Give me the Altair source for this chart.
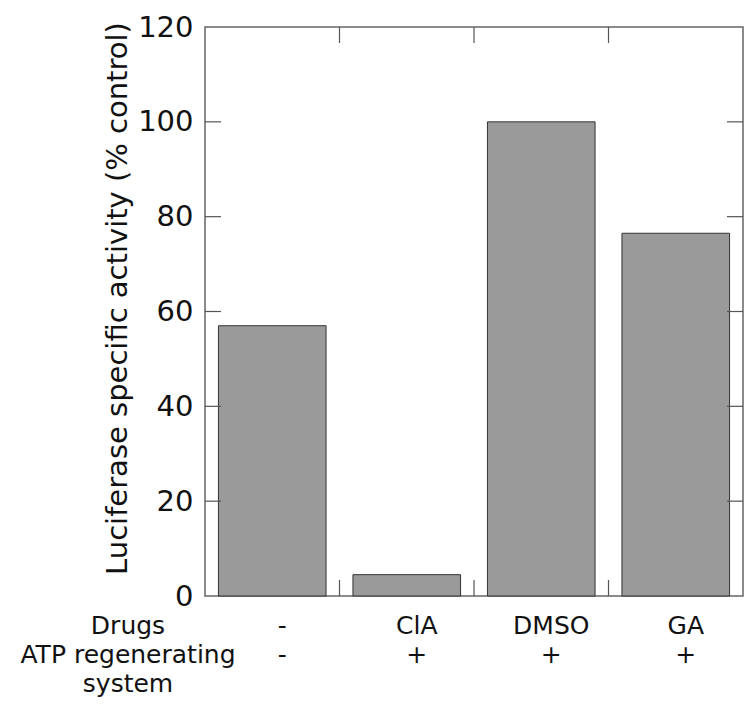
import altair as alt
import pandas as pd

# ---- data ----
conditions = ["none", "ClA", "DMSO", "GA"]
activity = [57, 4.5, 100, 76.5]
drug_labels = ["-", "ClA", "DMSO", "GA"]
atp_labels = ["-", "+", "+", "+"]
row_labels = ["Drugs", "ATP regenerating", "system"]
y_ticks = [0, 20, 40, 60, 80, 100, 120]

W, H = 538, 569
FONT = "DejaVu Sans"

df = pd.DataFrame({"cond": conditions, "activity": activity,
                   "drug": drug_labels, "atp": atp_labels})
inner_ticks = pd.DataFrame({"activity": y_ticks[1:-1]})
bound = pd.DataFrame({"cond": conditions[1:]})

xscale = alt.Scale(domain=conditions, paddingInner=0, paddingOuter=0)
yscale = alt.Scale(domain=[0, 120], nice=False, zero=True)
yaxis = alt.Axis(values=y_ticks, ticks=False, domain=False, grid=False,
                 labelFontSize=29, labelPadding=12, labelColor="#111",
                 labelFont=FONT,
                 title="Luciferase specific activity (% control)",
                 titleFontSize=29, titleFontWeight="normal", titleFont=FONT,
                 titleColor="#111", titleX=-88, titleY=271,
                 titleBaseline="middle", titleAngle=-90)

bars = alt.Chart(df).mark_bar(
    width=alt.RelativeBandSize(0.8), fill="#9a9a9a", stroke="#333333", strokeWidth=1
).encode(
    x=alt.X("cond:N", scale=xscale, axis=None, sort=conditions),
    y=alt.Y("activity:Q", scale=yscale, axis=yaxis),
)

tick_style = dict(color="#555", strokeWidth=1.2)
left_ticks = alt.Chart(inner_ticks).mark_rule(**tick_style).encode(
    y=alt.Y("activity:Q", scale=yscale, axis=yaxis), x=alt.value(0), x2=alt.value(16))
right_ticks = alt.Chart(inner_ticks).mark_rule(**tick_style).encode(
    y=alt.Y("activity:Q", scale=yscale, axis=yaxis), x=alt.value(W - 16), x2=alt.value(W))
bottom_ticks = alt.Chart(bound).mark_rule(**tick_style).encode(
    x=alt.X("cond:N", scale=xscale, axis=None, bandPosition=0, sort=conditions),
    y=alt.value(H - 16), y2=alt.value(H))
top_ticks = alt.Chart(bound).mark_rule(**tick_style).encode(
    x=alt.X("cond:N", scale=xscale, axis=None, bandPosition=0, sort=conditions),
    y=alt.value(0), y2=alt.value(16))

txt = dict(font=FONT, fontSize=25, color="#111", baseline="middle", align="center")
row_y = [H + 30, H + 59, H + 88]
drug_text = alt.Chart(df).mark_text(dx=10, **txt).encode(
    x=alt.X("cond:N", scale=xscale, axis=None, sort=conditions),
    y=alt.value(row_y[0]), text="drug:N")
atp_text = alt.Chart(df).mark_text(dx=10, **txt).encode(
    x=alt.X("cond:N", scale=xscale, axis=None, sort=conditions),
    y=alt.value(row_y[1]), text="atp:N")

row_df = pd.DataFrame({"label": row_labels})
row_layers = []
for lab, yy in zip(row_labels, row_y):
    row_layers.append(
        alt.Chart(row_df[row_df["label"] == lab]).mark_text(**txt).encode(
            x=alt.value(-77), y=alt.value(yy), text="label:N"))

chart = alt.layer(bars, left_ticks, right_ticks, bottom_ticks, top_ticks,
                  drug_text, atp_text, *row_layers).properties(
    width=W, height=H,
    autosize=alt.AutoSizeParams(type="none"),
    padding={"left": 205, "top": 27, "right": 8, "bottom": 123},
    background="white",
).configure_view(stroke="#666", strokeWidth=1.5)

chart.save("out.html", embed_options={"renderer": "svg", "actions": False})
